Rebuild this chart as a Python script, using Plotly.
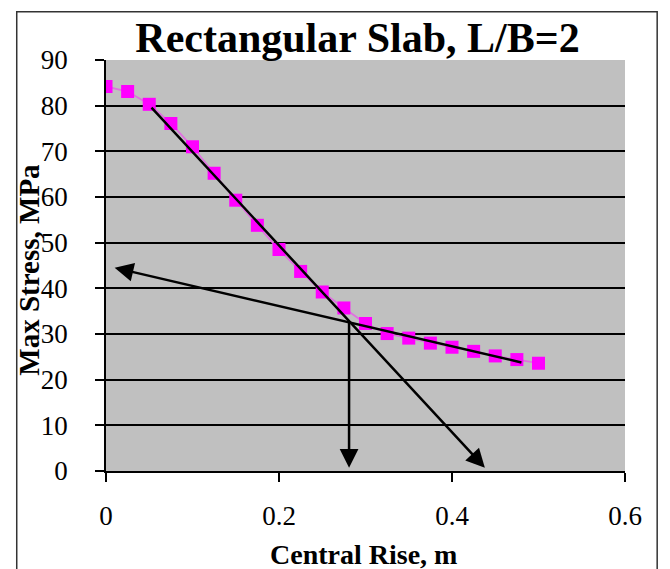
import plotly.graph_objects as go

# Data
central_rise = [0.0, 0.025, 0.05, 0.075, 0.1, 0.125, 0.15, 0.175, 0.2, 0.225, 0.25,
                0.275, 0.3, 0.325, 0.35, 0.375, 0.4, 0.425, 0.45, 0.475, 0.5]
max_stress = [84.2, 83.1, 80.3, 76.1, 71.0, 65.2, 59.3, 53.8, 48.5, 43.7, 39.2,
              35.7, 32.3, 30.1, 29.1, 28.0, 27.1, 26.2, 25.2, 24.4, 23.6]

# Trend-line arrows: (tail_x, tail_y, head_x, head_y)
steep_arrow = [0.051, 79.9, 0.438, 0.7]
shallow_arrow = [0.482, 23.7, 0.010, 44.5]
drop_arrow = [0.281, 32.8, 0.281, 0.7]

x_ticks = [0, 0.2, 0.4, 0.6]
x_tick_text = ["0", "0.2", "0.4", "0.6"]
y_ticks = [0, 10, 20, 30, 40, 50, 60, 70, 80, 90]

SERIF = "Liberation Serif, Times New Roman, serif"

# page body has an 8px margin, so the figure is sized to fill the rest of the window
W, H = 662, 561

fig = go.Figure()
fig.add_trace(go.Scatter(
    x=central_rise, y=max_stress, mode="lines+markers",
    line=dict(color="#E070E0", width=1.8),
    marker=dict(symbol="square", size=13, color="#FF00FF", line=dict(width=0)),
    showlegend=False, hoverinfo="x+y",
))

for a in (steep_arrow, shallow_arrow, drop_arrow):
    fig.add_annotation(
        x=a[2], y=a[3], ax=a[0], ay=a[1], xref="x", yref="y", axref="x", ayref="y",
        showarrow=True, arrowhead=2, arrowsize=1.5, arrowwidth=2.5, arrowcolor="black",
        text="", standoff=0,
    )

# axis titles placed as annotations
fig.add_annotation(
    text="<b>Max Stress, MPa</b>", textangle=-90, showarrow=False,
    xref="paper", yref="paper", x=-0.149, y=0.489, xanchor="center", yanchor="middle",
    font=dict(family=SERIF, size=29, color="black"),
)
fig.add_annotation(
    text="<b>Central Rise, m</b>", showarrow=False,
    xref="paper", yref="paper", x=0.497, y=-0.203, xanchor="center", yanchor="middle",
    font=dict(family=SERIF, size=28, color="black"),
)

# outer border of the chart area
fig.add_shape(type="rect", xref="paper", yref="paper",
              x0=-0.172, x1=1.062, y0=-0.3, y1=1.1175,
              line=dict(color="#333333", width=1.5), fillcolor="rgba(0,0,0,0)", layer="below")

fig.update_layout(
    width=W, height=H,
    margin=dict(l=98, r=45, t=52, b=98),
    paper_bgcolor="white", plot_bgcolor="#C0C0C0",
    title=dict(text="<b>Rectangular Slab, L/B=2</b>", x=349.5 / W, xanchor="center",
               y=1 - 15 / H, yanchor="top", yref="container",
               font=dict(family=SERIF, size=42, color="black")),
    font=dict(family=SERIF, color="black"),
)
fig.update_xaxes(
    range=[0, 0.6], tickvals=x_ticks, ticktext=x_tick_text, automargin=False,
    showgrid=False, zeroline=False, showline=True, linecolor="black", linewidth=1.5,
    ticks="outside", ticklen=9, tickcolor="black", tickwidth=1.5,
    ticklabelstandoff=11, tickfont=dict(family=SERIF, size=27, color="black"),
)
fig.update_yaxes(
    range=[0, 90], tickvals=y_ticks, automargin=False,
    showgrid=True, gridcolor="black", gridwidth=1.5,
    zeroline=False, showline=True, linecolor="black", linewidth=1.5,
    ticks="outside", ticklen=9, tickcolor="black", tickwidth=1.5,
    ticklabelstandoff=22, tickfont=dict(family=SERIF, size=27, color="black"),
)

fig.write_html("out.html")
